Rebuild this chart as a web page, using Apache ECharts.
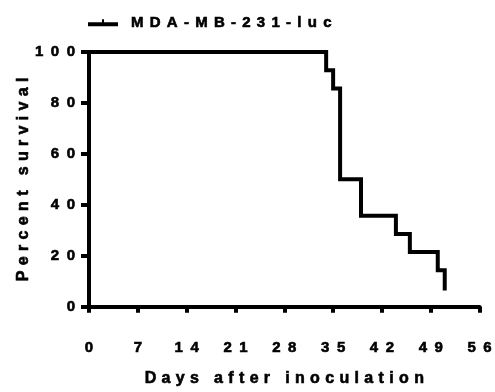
<!DOCTYPE html>
<html>
<head>
<meta charset="utf-8">
<script src="https://cdn.jsdelivr.net/npm/echarts@6/dist/echarts.min.js"></script>
<style>html,body{margin:0;padding:0;background:#fff}#c{width:495px;height:392px}</style>
</head>
<body>
<div id="c"></div>
<script>
// Kaplan-Meier survival data (step changes)
const days = [0, 34, 35, 36, 39, 44, 46, 50, 51];
const survival = [100, 92.86, 85.71, 50, 35.71, 28.57, 21.43, 14.29, 7.14];
const seriesName = 'MDA-MB-231-luc';
const xTicks = [0, 7, 14, 21, 28, 35, 42, 49, 56];
const yTicks = [0, 20, 40, 60, 80, 100];
const xTitle = 'Days after inoculation';
const yTitle = 'Percent survival';

const spaced = (s, sep) => String(s).split('').join(sep);
const FONT = 'Liberation Sans, Arial, sans-serif';
const bold = (size) => ({fontFamily: FONT, fontWeight: 'bold', fontSize: size, color: '#000',
  textBorderColor: '#000', textBorderWidth: 0.6});

const chart = echarts.init(document.getElementById('c'), null, {renderer: 'canvas'});
chart.setOption({
  animation: false,
  backgroundColor: '#fff',
  legend: {
    data: [seriesName],
    left: 83, top: 10,
    itemWidth: 30, itemHeight: 16,
    itemGap: 10,
    icon: 'path://M0,6 L30,6 L30,10 L0,10 Z M14,3 L16,3 L16,6 L14,6 Z',
    formatter: n => spaced(n, '\u2004\u200A'),
    textStyle: Object.assign(bold(15), {padding: [0, 0, 0, 8]})
  },
  grid: {left: 89, right: 11, top: 52, bottom: 76, containLabel: false},
  xAxis: {
    type: 'value', min: 0, max: 56, interval: 7,
    name: spaced(xTitle, '\u2004'), nameLocation: 'middle', nameGap: 64,
    nameMoveOverlap: false,
    nameTextStyle: bold(16),
    axisLine: {lineStyle: {color: '#000', width: 4}},
    axisTick: {show: true, length: 6, lineStyle: {color: '#000', width: 4}},
    axisLabel: Object.assign(bold(15), {margin: 34, formatter: v => spaced(v, '\u2002')}),
    splitLine: {show: false}
  },
  yAxis: {
    type: 'value', min: 0, max: 100, interval: 20,
    name: spaced(yTitle, '\u2004'), nameLocation: 'middle', nameGap: 57,
    nameMoveOverlap: false,
    nameTextStyle: bold(16),
    axisLine: {show: true, lineStyle: {color: '#000', width: 4}},
    axisTick: {show: true, length: 8, lineStyle: {color: '#000', width: 4}},
    axisLabel: Object.assign(bold(15), {margin: 14, formatter: v => spaced(v, '\u2002')}),
    splitLine: {show: false}
  },
  series: [{
    name: seriesName,
    type: 'line',
    step: 'end',
    data: days.map((d, i) => [d, survival[i]]),
    showSymbol: false,
    symbol: 'none',
    lineStyle: {color: '#000', width: 4, cap: 'square', join: 'miter'},
    itemStyle: {color: '#000'}
  }]
});
</script>
</body>
</html>
